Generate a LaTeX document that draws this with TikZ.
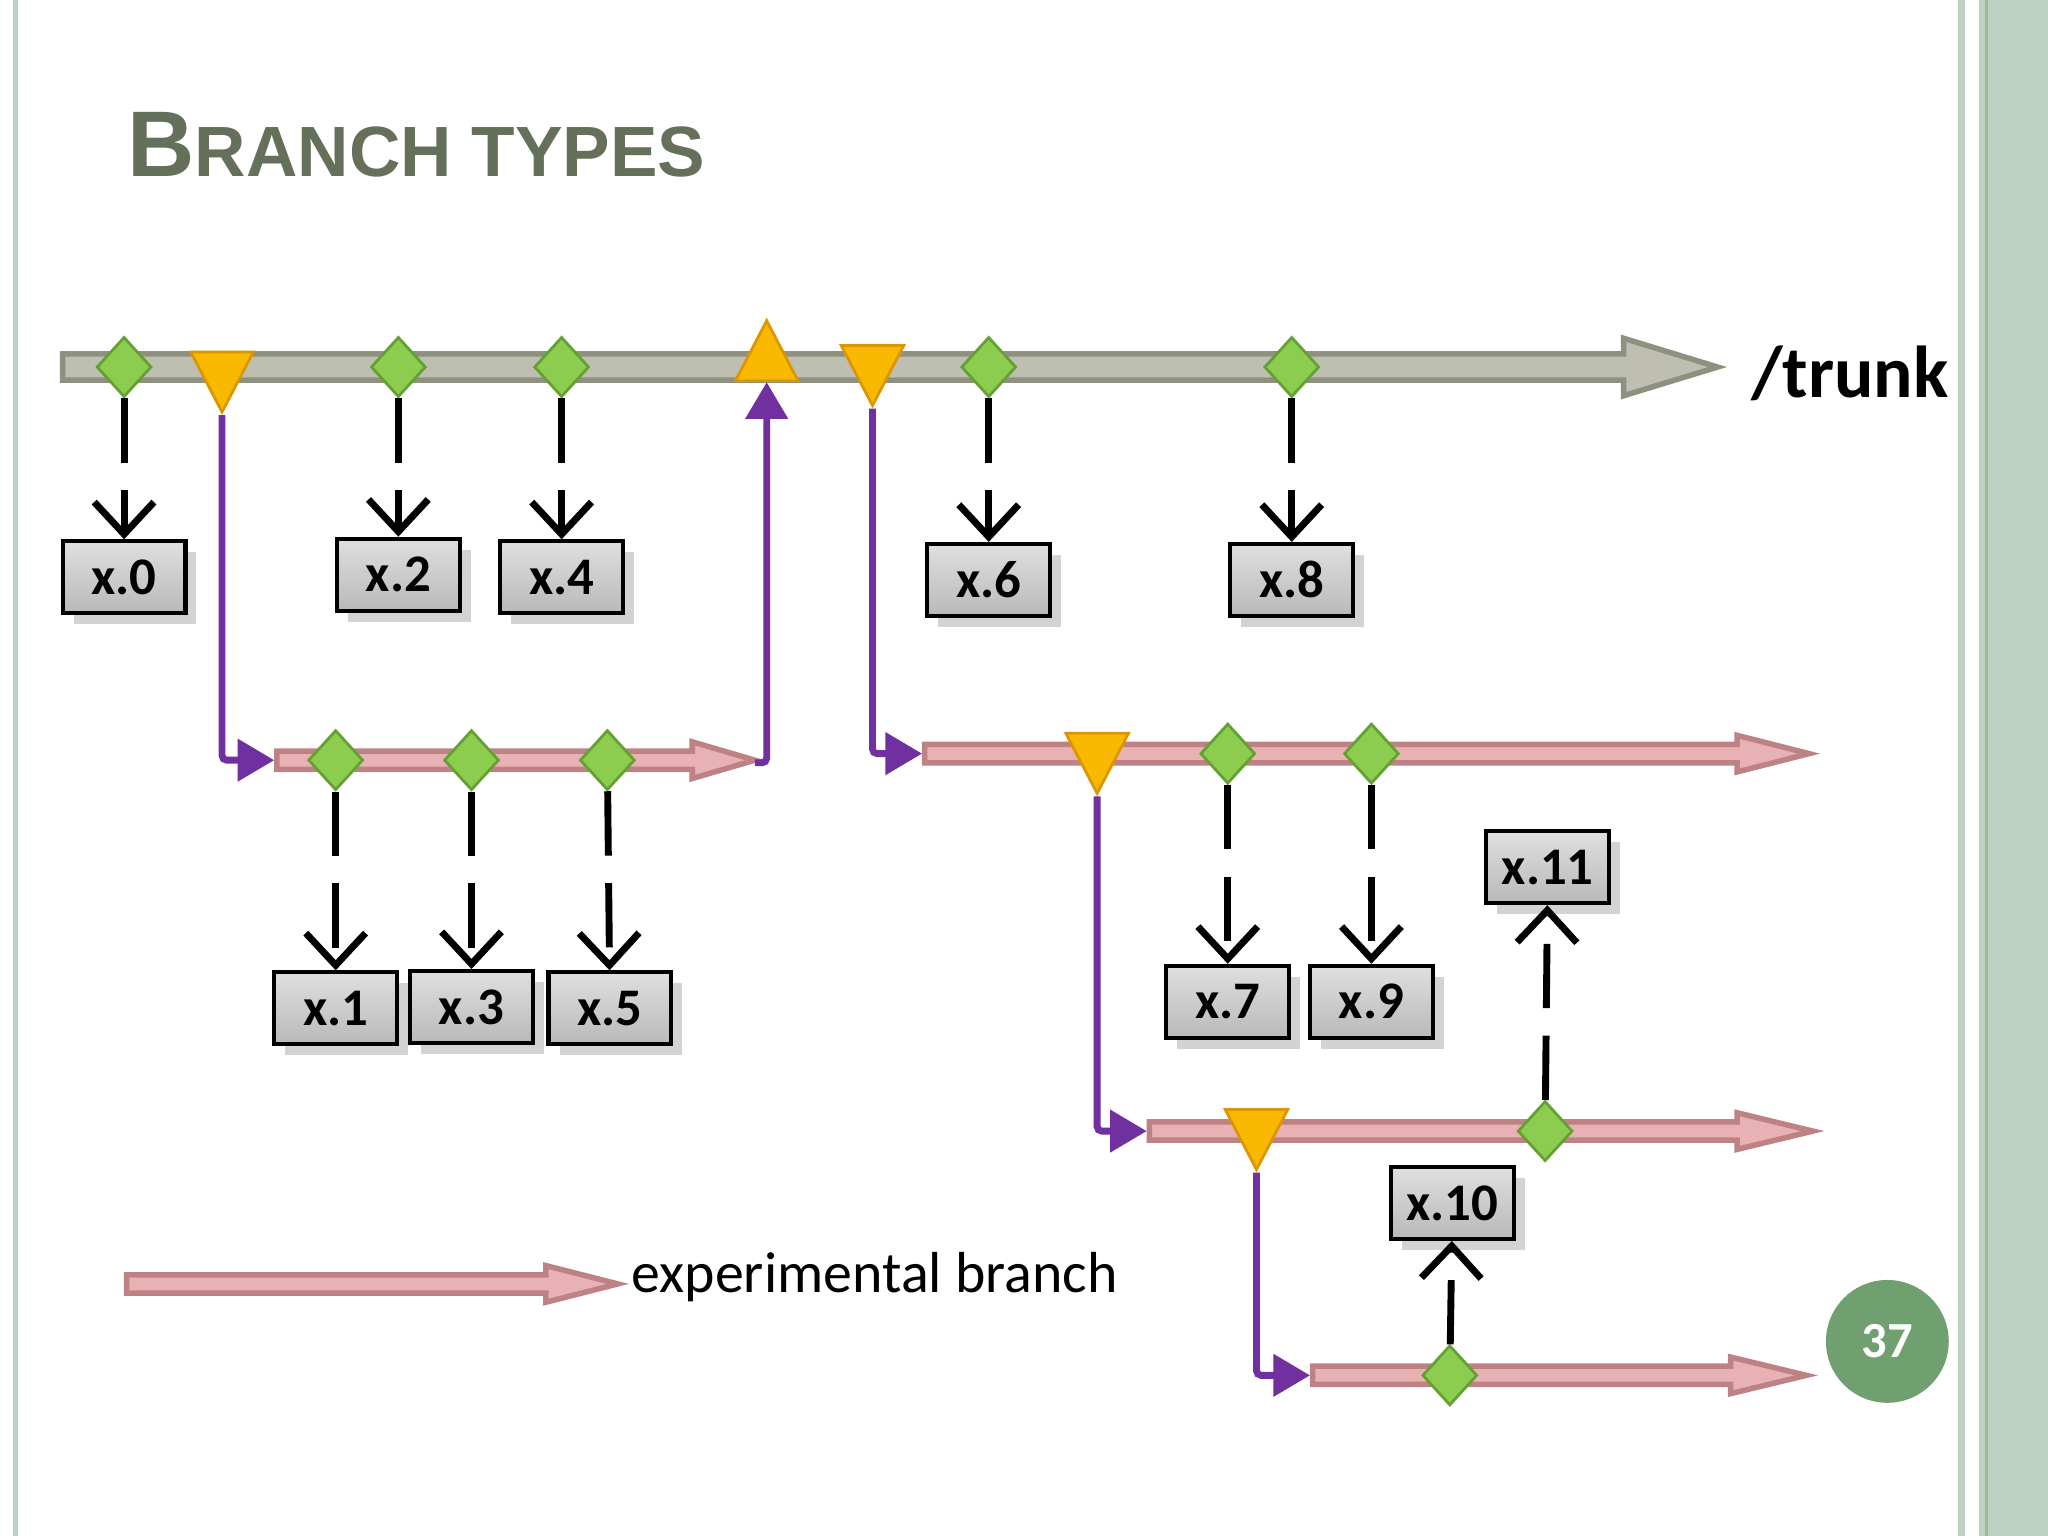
\documentclass[tikz,border=0pt]{standalone}
\usepackage{fontspec}
\setmainfont{Carlito}
\newfontfamily\titlefont{Liberation Sans}
\usetikzlibrary{shapes.geometric,arrows.meta,shadows}
\definecolor{trunkfill}{RGB}{190,191,176}
\definecolor{trunkline}{RGB}{142,144,128}
\definecolor{brfill}{RGB}{232,178,180}
\definecolor{brline}{RGB}{190,130,132}
\definecolor{tagpurple}{RGB}{112,48,160}
\definecolor{gem}{RGB}{140,205,80}
\definecolor{gemline}{RGB}{100,160,50}
\definecolor{amber}{RGB}{248,185,0}
\definecolor{amberline}{RGB}{220,150,0}
\definecolor{titlecol}{RGB}{100,112,90}
\definecolor{frame}{RGB}{190,210,195}
\definecolor{pagegreen}{RGB}{112,160,112}
% fat arrow: x1, x2, y, shaft half height, head half height, head length, fill, line
\newcommand\fatarrow[8]{%
  \draw[#8, line width=1.2pt, fill=#7]
    (#1,#3-#4) -- (#2-#6,#3-#4) -- (#2-#6,#3-#5) -- (#2,#3)
    -- (#2-#6,#3+#5) -- (#2-#6,#3+#4) -- (#1,#3+#4) -- cycle;}
\begin{document}
\begin{tikzpicture}[x=0.01cm,y=-0.01cm,
  gem/.style={diamond, fill=gem, draw=gemline, line width=0.6pt,
    minimum width=0.42cm, minimum height=0.46cm, inner sep=0pt},
  down/.style={isosceles triangle, shape border rotate=-90, isosceles triangle apex angle=55,
    fill=amber, draw=amberline, line width=0.6pt, minimum height=0.46cm, inner sep=0pt},
  up/.style={down, shape border rotate=90},
  ver/.style={draw=black, line width=0.9pt, top color=gray!25, bottom color=gray!55,
    minimum width=0.94cm, minimum height=0.55cm, inner sep=0pt,
    font=\fontsize{11.5}{11.5}\selectfont\bfseries, drop shadow={opacity=0.35}},
  rel/.style={line width=1.5pt, dash pattern=on 14pt off 6pt, -{Straight Barb[length=7pt,width=13pt,line width=1.5pt]}},
  tag/.style={tagpurple, line width=1.5pt, rounded corners=1pt, -{Triangle[length=8pt,width=9pt]}}]
\useasboundingbox (0,0) rectangle (1568,1176);
% frame
\draw[frame, line width=1.2pt] (12,0) -- (12,1176);
\draw[frame, line width=1.5pt] (1502,0) -- (1502,1176);
\fill[frame] (1515,0) rectangle (1568,1176);
\draw[pagegreen!70, line width=0.8pt] (1521,0) -- (1521,1176);
% title
\node[anchor=base west, text=titlecol, font=\titlefont\bfseries, inner sep=0pt] (title) at (97,135)
  {\fontsize{20.3}{20}\selectfont B\fontsize{15.5}{15}\selectfont RANCH TYPES};
% lines
\fatarrow{48}{1315}{281}{10}{22}{72}{trunkfill}{trunkline}
\fatarrow{212}{578}{582}{7}{14}{48}{brfill}{brline}
\fatarrow{708}{1385}{577}{7}{14}{55}{brfill}{brline}
\fatarrow{880}{1388}{866}{7}{14}{58}{brfill}{brline}
\fatarrow{1005}{1383}{1053}{7}{14}{58}{brfill}{brline}
\fatarrow{97}{473}{983}{7}{14}{55}{brfill}{brline}
\node[anchor=west, font=\fontsize{12.6}{13}\selectfont, inner sep=0pt] (legend) at (483,978) {experimental branch};
\node[anchor=west, font=\fontsize{16}{16}\selectfont\bfseries, inner sep=0pt] (trunk) at (1340,286) {/trunk};
% tags and branch points
\node[down] (t1) at (170,284) {};
\node[up]   (t2) at (587,277) {};
\node[down] (t3) at (668,279) {};
\node[down] (t4) at (840,576) {};
\node[down] (t5) at (962,864) {};
% commits
\node[gem] (c0) at (95,281) {};
\node[gem] (c2) at (305,281) {};
\node[gem] (c4) at (430,281) {};
\node[gem] (c6) at (757,281) {};
\node[gem] (c8) at (989,281) {};
\node[gem] (c1) at (257,582) {};
\node[gem] (c3) at (361,582) {};
\node[gem] (c5) at (465,582) {};
\node[gem] (c7) at (940,577) {};
\node[gem] (c9) at (1050,577) {};
\node[gem] (c11) at (1183,866) {};
\node[gem] (c10) at (1110,1053) {};
% versions
\node[ver] (v0) at (95,442) {x.0};
\node[ver] (v2) at (305,440) {x.2};
\node[ver] (v4) at (430,442) {x.4};
\node[ver] (v6) at (757,444) {x.6};
\node[ver] (v8) at (989,444) {x.8};
\node[ver] (v1) at (257,772) {x.1};
\node[ver] (v3) at (361,771) {x.3};
\node[ver] (v5) at (467,772) {x.5};
\node[ver] (v7) at (940,767) {x.7};
\node[ver] (v9) at (1050,767) {x.9};
\node[ver] (v11) at (1185,664) {x.11};
\node[ver] (v10) at (1112,921) {x.10};
\foreach \c/\v in {c0/v0,c2/v2,c4/v4,c6/v6,c8/v8,c1/v1,c3/v3,c5/v5,c7/v7,c9/v9,c11/v11,c10/v10}
  \draw[rel] (\c) -- (\v);
% branch / merge connectors
\coordinate (b1) at (210,582);
\coordinate (m1) at (578,584);
\coordinate (b2) at (706,577);
\coordinate (b3) at (878,866);
\coordinate (b4) at (1003,1053);
\draw[tag] (t1.south) -- (t1.south |- b1) -- (b1);
\draw[tag] (m1) -- (587,584) -- (t2.south);
\draw[tag] (t3.south) -- (t3.south |- b2) -- (b2);
\draw[tag] (t4.south) -- (t4.south |- b3) -- (b3);
\draw[tag] (t5.south) -- (t5.south |- b4) -- (b4);
% page number
\node[circle, fill=pagegreen, minimum size=0.94cm, text=white,
  font=\fontsize{11}{11}\selectfont\bfseries] (page) at (1445,1027) {37};
\end{tikzpicture}
\end{document}
